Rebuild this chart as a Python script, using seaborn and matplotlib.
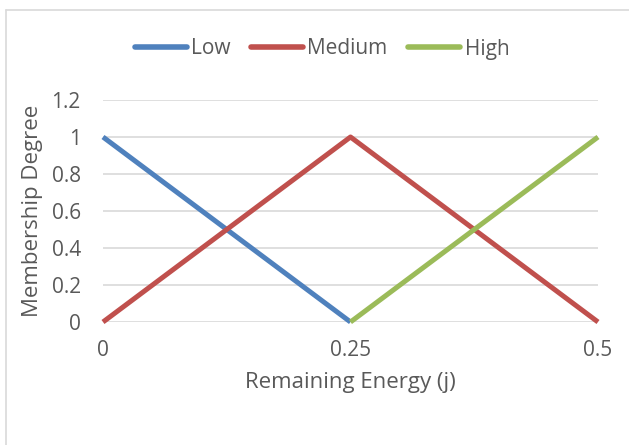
import matplotlib
matplotlib.use("Agg")
import matplotlib.pyplot as plt
import seaborn as sns
import pandas as pd
from matplotlib.lines import Line2D

energy = [0, 0.25, 0.5]
low = [1, 0, None]
medium = [0, 1, 0]
high = [None, 0, 1]
series_names = ["Low", "Medium", "High"]
colors = ["#4F81BD", "#C0504D", "#9BBB59"]
x_ticks = [0, 0.25, 0.5]
x_tick_labels = ["0", "0.25", "0.5"]
y_ticks = [0, 0.2, 0.4, 0.6, 0.8, 1.0, 1.2]
y_tick_labels = ["0", "0.2", "0.4", "0.6", "0.8", "1", "1.2"]

sns.set_theme(style="white")
plt.rcParams["font.family"] = ["Open Sans", "DejaVu Sans"]
text_color = "#595959"

df = pd.DataFrame({"Energy": energy, "Low": low, "Medium": medium, "High": high})
long = df.melt(id_vars="Energy", var_name="Series", value_name="Degree").dropna()

fig = plt.figure(figsize=(6.29, 4.45), dpi=100)
ax = fig.add_axes([103/629, 1-322/445, (598-103)/629, (322-100)/445])

sns.lineplot(data=long, x="Energy", y="Degree", hue="Series", hue_order=series_names,
             palette=colors, linewidth=3.6, ax=ax, legend=False, sort=True,
             solid_capstyle="butt")

ax.set_xlim(0, 0.5)
ax.set_ylim(0, 1.2)
ax.set_xticks(x_ticks)
ax.set_xticklabels(x_tick_labels)
ax.set_yticks(y_ticks)
ax.set_yticklabels(y_tick_labels)
ax.tick_params(axis="both", length=0, labelsize=15, colors=text_color)
ax.tick_params(axis="x", pad=13)
ax.tick_params(axis="y", pad=16)
ax.yaxis.grid(True, color="#D9D9D9", linewidth=1.2)
ax.xaxis.grid(False)
for s in ax.spines.values():
    s.set_visible(False)
ax.set_axisbelow(True)
for l in ax.get_lines():
    l.set_clip_on(False)

ax.set_xlabel("Remaining Energy (j)", fontsize=16, color=text_color, labelpad=8)
ax.set_ylabel("Membership Degree", fontsize=16, color=text_color, labelpad=6)

handles = [Line2D([0], [0], color=c, linewidth=4, solid_capstyle="round") for c in colors]
fig.legend(handles, series_names, loc="center", bbox_to_anchor=(322/629, 1-49/445),
           ncol=3, frameon=False, fontsize=15, handlelength=2.5, handletextpad=0.2,
           columnspacing=1.0, labelcolor=text_color)

# chart border (top and left visible)
fig.add_artist(Line2D([6/629, 1], [1-10/445, 1-10/445], color="#D9D9D9", linewidth=1.2,
                      transform=fig.transFigure))
fig.add_artist(Line2D([6/629, 6/629], [0, 1-10/445], color="#D9D9D9", linewidth=1.2,
                      transform=fig.transFigure))

fig.savefig("out.png", dpi=100)
